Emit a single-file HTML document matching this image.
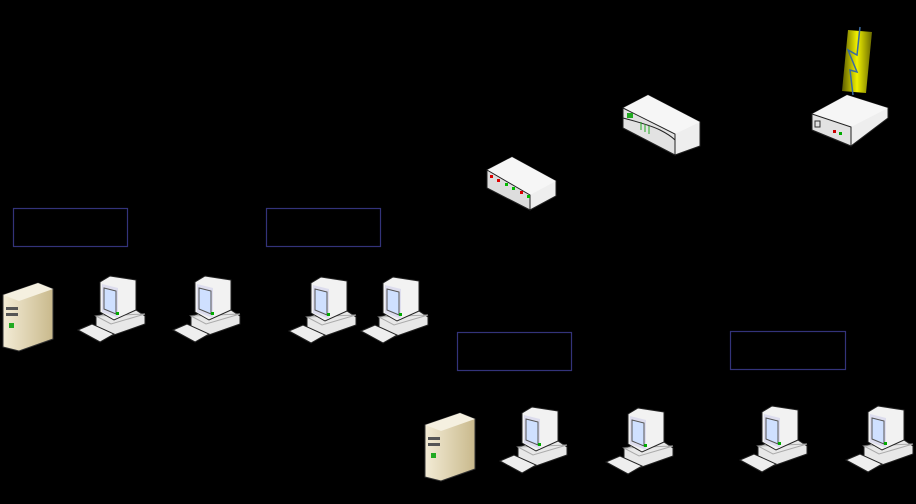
<!DOCTYPE html>
<html><head><style>html,body{margin:0;padding:0;background:#000;}svg{display:block}</style></head>
<body>
<svg width="916" height="504" viewBox="0 0 916 504" xmlns="http://www.w3.org/2000/svg">
<defs>
<linearGradient id="bz" x1="0" x2="1"><stop offset="0" stop-color="#f3ecd6"/><stop offset="1" stop-color="#c9b98c"/></linearGradient>
<linearGradient id="ly" x1="0" x2="1"><stop offset="0" stop-color="#5a5a00"/><stop offset=".5" stop-color="#f0f000"/><stop offset="1" stop-color="#6a6a00"/></linearGradient>
<symbol id="pc" overflow="visible">
  <polygon points="18,40 52,30 67,40 67,48 33,60 18,52" fill="#e8e8e8" stroke="#222" stroke-width="1"/>
  <polygon points="18,40 33,48 67,38" fill="none" stroke="#aaa"/>
  <polygon points="22,6 32,0 58,4 58,34 36,44 22,36" fill="#f2f2f2" stroke="#222"/>
  <polygon points="24,8 40,12 40,42 24,36" fill="#dde"/>
  <polygon points="26,12 38,15 38,38 26,33" fill="#cfe0ff" stroke="#555"/>
  <rect x="38" y="36" width="3" height="3" fill="#0a0"/>
  <polygon points="0,54 14,48 36,58 22,66" fill="#eee" stroke="#222"/>
</symbol>
<symbol id="srv" overflow="visible">
  <polygon points="0,12 35,0 50,6 50,56 16,68 0,64" fill="url(#bz)" stroke="#333"/>
  <polygon points="0,12 35,0 50,6 16,18" fill="#f5f0e0"/>
  <rect x="3" y="24" width="12" height="3" fill="#555"/>
  <rect x="3" y="30" width="12" height="3" fill="#555"/>
  <rect x="6" y="40" width="5" height="5" fill="#2a2"/>
</symbol>
</defs>
<g fill="none" stroke="#33337a" stroke-width="1.2">
<rect x="13.5" y="208.5" width="114" height="38"/>
<rect x="266.5" y="208.5" width="114" height="38"/>
<rect x="457.5" y="332.5" width="114" height="38"/>
<rect x="730.5" y="331.5" width="115" height="38"/>
</g>
<use href="#srv" x="3" y="283"/>
<use href="#srv" x="425" y="413"/>
<use href="#pc" x="78" y="276"/>
<use href="#pc" x="173" y="276"/>
<use href="#pc" x="289" y="277"/>
<use href="#pc" x="361" y="277"/>
<use href="#pc" x="500" y="407"/>
<use href="#pc" x="606" y="408"/>
<use href="#pc" x="740" y="406"/>
<use href="#pc" x="846" y="406"/>
<!-- hub -->
<polygon points="487,170 512,157 556,181 556,196 530,210 487,188" fill="#eee" stroke="#222"/>
<polygon points="487,170 512,157 556,181 530,195" fill="#f6f6f6"/>
<polygon points="487,170 530,195 530,210 487,188" fill="#ddd" stroke="#222"/>
<g fill="#d00"><rect x="490" y="175" width="3" height="3"/><rect x="497" y="179" width="3" height="3"/><rect x="520" y="191" width="3" height="3"/></g>
<g fill="#0b0"><rect x="505" y="183" width="3" height="3"/><rect x="512" y="187" width="3" height="3"/><rect x="527" y="195" width="3" height="3"/></g>
<!-- router -->
<polygon points="623,108 648,95 700,122 700,146 675,155 623,128" fill="#eee" stroke="#222"/>
<polygon points="623,108 648,95 700,122 675,134" fill="#f6f6f6"/>
<polygon points="623,108 675,134 675,155 623,128" fill="#e2e2e2" stroke="#222"/>
<path d="M623,118 Q650,125 660,130 Q670,135 675,140" stroke="#222" fill="none"/>
<rect x="627" y="113" width="6" height="5" fill="#2a2"/>
<g stroke="#2a2"><line x1="641" y1="122" x2="641" y2="130"/><line x1="645" y1="124" x2="645" y2="132"/><line x1="649" y1="126" x2="649" y2="134"/></g>
<!-- modem -->
<polygon points="812,114 847,95 888,108 888,118 851,146 812,130" fill="#eee" stroke="#222"/>
<polygon points="812,114 847,95 888,108 851,127" fill="#f6f6f6"/>
<polygon points="812,114 851,127 851,146 812,130" fill="#e2e2e2" stroke="#222"/>
<rect x="815" y="121" width="5" height="6" fill="none" stroke="#333"/>
<rect x="833" y="130" width="3" height="3" fill="#c00"/><rect x="839" y="132" width="3" height="3" fill="#0a0"/>
<!-- lightning -->
<polygon points="848,30 872,32 866,93 842,91" fill="url(#ly)"/>
<polyline points="860,27 857,55 848,50 857,72 850,70 853,95" fill="none" stroke="#3a6aa0" stroke-width="1.5"/>
</svg>
</body></html>
